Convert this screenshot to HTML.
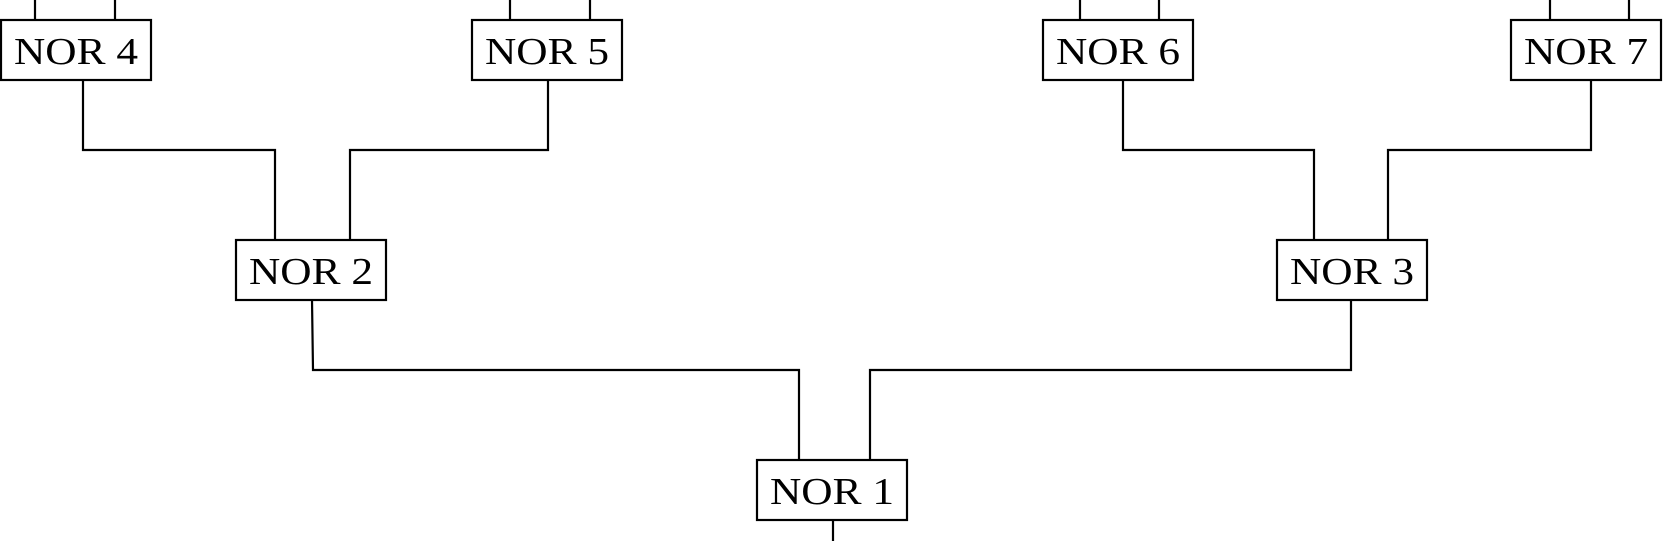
<!DOCTYPE html>
<html><head><meta charset="utf-8"><style>
html,body{margin:0;padding:0;background:#fff;}
svg{display:block;}
text{font-family:"Liberation Serif",serif;font-size:38px;fill:#000;}
</style></head><body>
<svg width="1663" height="541" viewBox="0 0 1663 541" xmlns="http://www.w3.org/2000/svg">
<g fill="none" stroke="#000" stroke-width="2.2">
<!-- boxes -->
<rect x="1" y="20" width="150" height="60"/>
<rect x="472" y="20" width="150" height="60"/>
<rect x="1043" y="20" width="150" height="60"/>
<rect x="1511" y="20" width="150" height="60"/>
<rect x="236" y="240" width="150" height="60"/>
<rect x="1277" y="240" width="150" height="60"/>
<rect x="757" y="460" width="150" height="60"/>
<!-- inputs -->
<path d="M35 0V20M115 0V20M510 0V20M590 0V20M1080 0V20M1159 0V20M1550 0V20M1629 0V20"/>
<!-- level 1 -> 2 -->
<path d="M83 80V150H275V240"/>
<path d="M548 80V150H350V240"/>
<path d="M1123 80V150H1314V240"/>
<path d="M1591 80V150H1388V240"/>
<!-- level 2 -> 1 -->
<path d="M312 300L313 370H799V460"/>
<path d="M1351 300V370H870V460"/>
<path d="M833 520V541"/>
</g>
<text x="14" y="64" textLength="124" lengthAdjust="spacingAndGlyphs">NOR 4</text>
<text x="485" y="64" textLength="124" lengthAdjust="spacingAndGlyphs">NOR 5</text>
<text x="1056" y="64" textLength="124" lengthAdjust="spacingAndGlyphs">NOR 6</text>
<text x="1524" y="64" textLength="124" lengthAdjust="spacingAndGlyphs">NOR 7</text>
<text x="249" y="284" textLength="124" lengthAdjust="spacingAndGlyphs">NOR 2</text>
<text x="1290" y="284" textLength="124" lengthAdjust="spacingAndGlyphs">NOR 3</text>
<text x="770" y="504" textLength="124" lengthAdjust="spacingAndGlyphs">NOR 1</text>
</svg>
</body></html>
